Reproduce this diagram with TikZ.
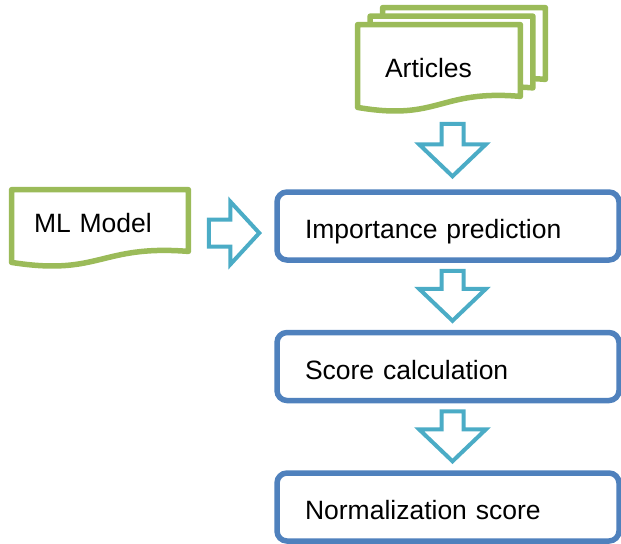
\documentclass[tikz,border=0pt]{standalone}
\usepackage{fontspec}
\setmainfont{Liberation Sans}
\usepackage{xcolor}
\definecolor{docGreen}  {HTML}{9BBB59}
\definecolor{stepBlue}  {HTML}{4F81BD}
\definecolor{flowTeal}  {HTML}{4BACC6}
\usetikzlibrary{calc, backgrounds}
\tikzset{
    docbox/.style={rectangle, inner xsep=11pt, align=left,
                   text height=9.5pt, text depth=3.5pt,
                   font=\fontsize{13.25pt}{16pt}\selectfont},
    docline/.style={draw=docGreen, line width=2.75pt, fill=white, line join=round},
    stepbox/.style={rectangle, rounded corners=5pt, draw=stepBlue, line width=2.75pt,
                    fill=white, minimum width=171pt, minimum height=34pt,
                    inner xsep=14pt, text width=143pt, align=left,
                    text height=13pt, text depth=0.5pt,
                    font=\fontsize{13.25pt}{16pt}\selectfont},
    flowline/.style={draw=flowTeal, line width=2pt, fill=white, line join=miter},
    blockdown/.style={flowline, to path={let \p1=(\tikztostart), \p2=(\tikztotarget) in
        (\x1-5.5pt,\y1) -- (\x1+5.5pt,\y1) -- (\x1+5.5pt,\y2+16pt) -- (\x1+16.75pt,\y2+16pt)
        -- (\x1,\y2) -- (\x1-16.75pt,\y2+16pt) -- (\x1-5.5pt,\y2+16pt) -- cycle}},
    blockright/.style={flowline, to path={let \p1=(\tikztostart), \p2=(\tikztotarget) in
        (\x1,\y1+6.75pt) -- (\x2-14.5pt,\y1+6.75pt) -- (\x2-14.5pt,\y1+15.75pt)
        -- (\x2,\y1) -- (\x2-14.5pt,\y1-15.75pt) -- (\x2-14.5pt,\y1-6.75pt)
        -- (\x1,\y1-6.75pt) -- cycle}},
}
% outline of a page with a wavy foot, drawn round a named node
\newcommand{\docpage}[1]{%
    \draw[docline] (#1.south west) -- (#1.north west) -- (#1.north east)
        -- ([yshift=5.5pt]#1.south east)
        .. controls ($(#1.south)+(0,9pt)$) and ($(#1.south)+(0,-7pt)$) .. (#1.south west)
        -- cycle;}

\begin{document}
\begin{tikzpicture}[x=0.5pt, y=-0.5pt]
    \useasboundingbox (0,0) rectangle (621,543);

    % inputs
    \node[docbox, minimum width=81pt, minimum height=41pt, inner xsep=13.5pt,
          text width=54pt, text height=11pt, text depth=0pt] (art) at (439,66) {Articles};
    \node[docbox, minimum width=81pt, minimum height=41pt] (art2) at (451.5,57.5) {};
    \node[docbox, minimum width=81pt, minimum height=41pt] (art3) at (464,49) {};
    \node[docbox, minimum width=88pt, minimum height=36pt, text width=66pt] (ml) at (100,226) {ML Model};
    \begin{scope}[on background layer]
        \docpage{art3}
        \docpage{art2}
        \docpage{art}
        \docpage{ml}
    \end{scope}

    % steps
    \node[stepbox] (imp)   at (448,226)   {Importance prediction};
    \node[stepbox] (score) at (448,366.5) {Score calculation};
    \node[stepbox] (norm)  at (448,507)   {Normalization score};

    \draw[blockdown] ([xshift=6.75pt,yshift=-8.25pt]art.south) to ([xshift=2.25pt,yshift=6.5pt]imp.north);
    \draw[blockright] ([xshift=10.25pt,yshift=-3.5pt]ml.east) to ([xshift=-7.5pt,yshift=-3.5pt]imp.west);
    \draw[blockdown] ([xshift=2.25pt,yshift=-4pt]imp.south) to ([xshift=2.25pt,yshift=4.5pt]score.north);
    \draw[blockdown] ([xshift=2.25pt,yshift=-4pt]score.south) to ([xshift=2.25pt,yshift=4.5pt]norm.north);
\end{tikzpicture}
\end{document}
